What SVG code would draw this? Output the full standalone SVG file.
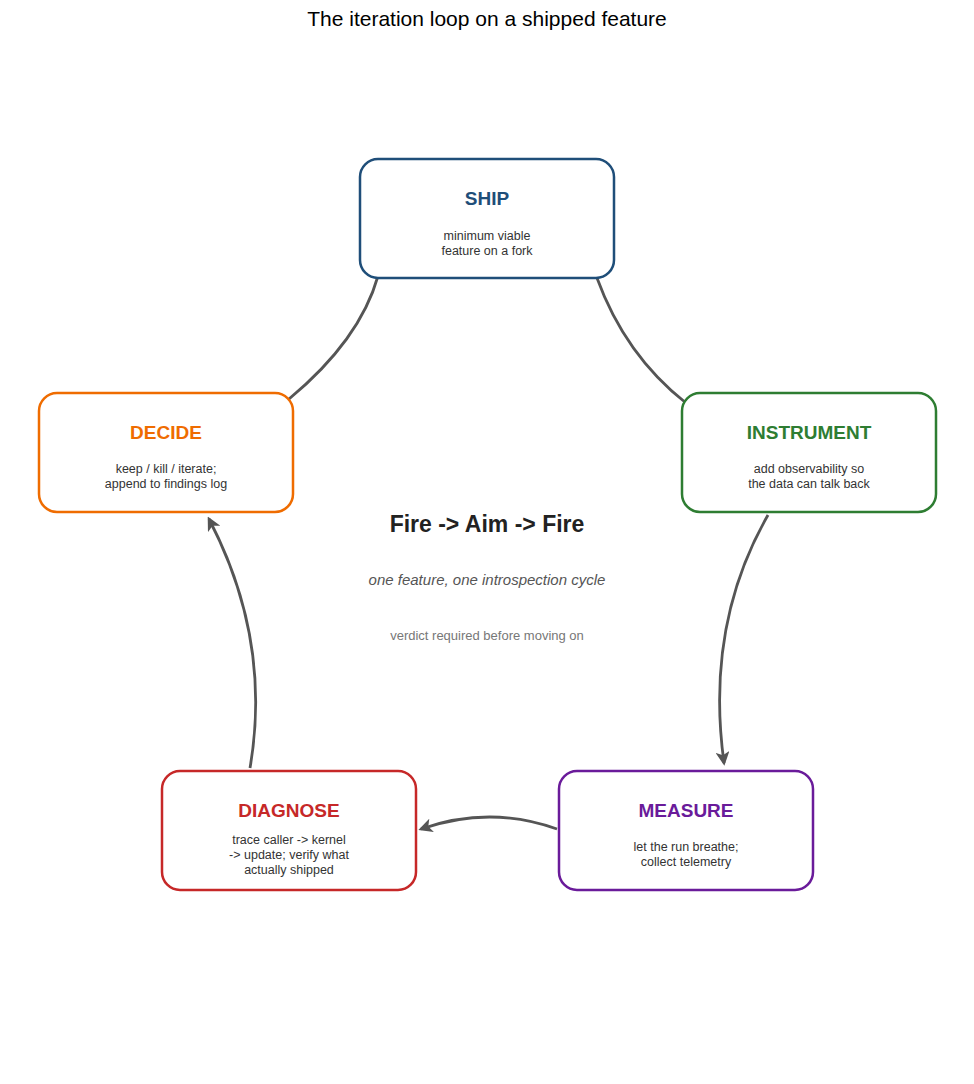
<svg xmlns="http://www.w3.org/2000/svg" width="974" height="1084" viewBox="0 0 974 1084">
<style>
.box{fill:#fff;stroke-width:2.5}
.t{font-family:"Liberation Sans",Arial,sans-serif;text-anchor:middle}
.h{font-size:19px;font-weight:bold}
.s{font-size:12.5px;fill:#333}
.c{fill:none;stroke:#555;stroke-width:2.8}
</style>
<defs><marker id="a" viewBox="0 0 10 10" refX="8" refY="5" markerWidth="5" markerHeight="5" orient="auto" markerUnits="strokeWidth"><path d="M0,0 L10,5 L0,10 L2.5,5 z" fill="#555"/></marker></defs>
<rect width="974" height="1084" fill="#fff"/>
<text class="t" x="487" y="26" font-size="21">The iteration loop on a shipped feature</text>
<g id="connectors">
<path class="c" d="M597,278 Q625,355 686,403"/>
<path class="c" d="M289,399 Q360,340 378,276"/>
<path class="c" d="M768,515 Q705,625 724,763" marker-end="url(#a)"/>
<path class="c" d="M557,829 Q490,805 421,829" marker-end="url(#a)"/>
<path class="c" d="M250,768 Q272,640 209,519" marker-end="url(#a)"/>
</g>
<g id="ship"><rect class="box" x="360" y="159" width="254" height="119" rx="18" stroke="#1f4e79"/>
<text class="t h" x="487" y="205" fill="#1f4e79">SHIP</text>
<text class="t s" x="487" y="240">minimum viable</text><text class="t s" x="487" y="255">feature on a fork</text></g>
<g id="decide"><rect class="box" x="39" y="393" width="254" height="119" rx="18" stroke="#ef6c00"/>
<text class="t h" x="166" y="439" fill="#ef6c00">DECIDE</text>
<text class="t s" x="166" y="473">keep / kill / iterate;</text><text class="t s" x="166" y="488">append to findings log</text></g>
<g id="instrument"><rect class="box" x="682" y="393" width="254" height="119" rx="18" stroke="#2e7d32"/>
<text class="t h" x="809" y="439" fill="#2e7d32">INSTRUMENT</text>
<text class="t s" x="809" y="473">add observability so</text><text class="t s" x="809" y="488">the data can talk back</text></g>
<g id="diagnose"><rect class="box" x="162" y="771" width="254" height="119" rx="18" stroke="#c62828"/>
<text class="t h" x="289" y="817" fill="#c62828">DIAGNOSE</text>
<text class="t s" x="289" y="844">trace caller -&gt; kernel</text><text class="t s" x="289" y="859">-&gt; update; verify what</text><text class="t s" x="289" y="874">actually shipped</text></g>
<g id="measure"><rect class="box" x="559" y="771" width="254" height="119" rx="18" stroke="#6a1b9a"/>
<text class="t h" x="686" y="817" fill="#6a1b9a">MEASURE</text>
<text class="t s" x="686" y="851">let the run breathe;</text><text class="t s" x="686" y="866">collect telemetry</text></g>
<g id="center">
<text class="t" x="487" y="532" font-size="23" font-weight="bold" fill="#222">Fire -&gt; Aim -&gt; Fire</text>
<text class="t" x="487" y="585" font-size="15" font-style="italic" fill="#555">one feature, one introspection cycle</text>
<text class="t" x="487" y="640" font-size="13" fill="#777">verdict required before moving on</text>
</g>
</svg>
